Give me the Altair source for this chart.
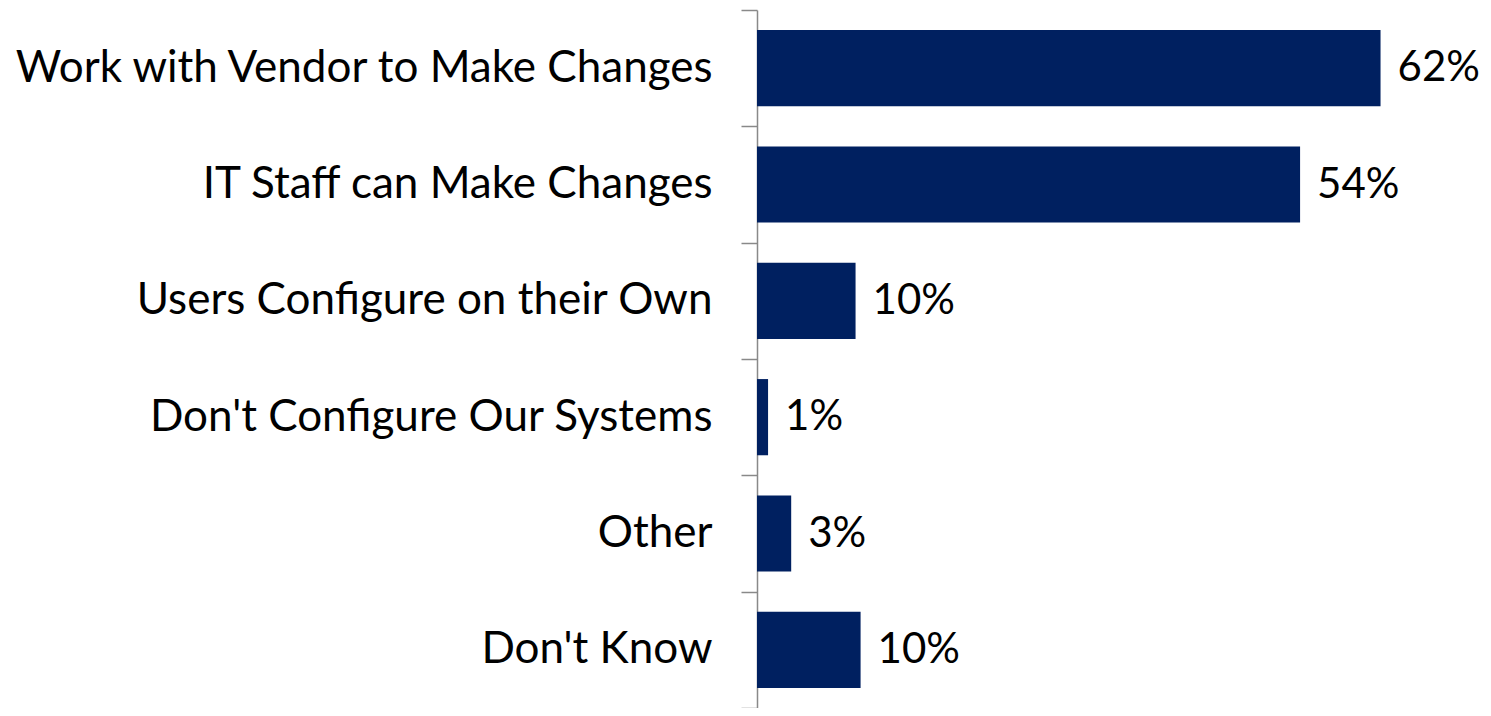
import altair as alt
import pandas as pd

categories = [
    "Work with Vendor to Make Changes",
    "IT Staff can Make Changes",
    "Users Configure on their Own",
    "Don't Configure Our Systems",
    "Other",
    "Don't Know",
]
values = [0.62, 0.54, 0.098, 0.011, 0.034, 0.103]

df = pd.DataFrame({"category": categories, "value": values})

FONT = "Lato"

y = alt.Y(
    "category:N",
    sort=categories,
    title=None,
    scale=alt.Scale(paddingInner=0, paddingOuter=0),
    axis=alt.Axis(
        labelFont=FONT,
        labelFontSize=44,
        labelColor="#000000",
        labelPadding=29,
        labelLimit=0,
        tickBand="extent",
        tickSize=16,
        tickColor="#898989",
        tickWidth=1.5,
        domainColor="#898989",
        domainWidth=1.5,
        grid=False,
    ),
)
x = alt.X("value:Q", title=None, axis=None, scale=alt.Scale(domain=[0, 0.7]))

bars = alt.Chart(df).mark_bar(
    color="#002060", height=alt.RelativeBandSize(band=0.655)
).encode(x=x, y=y)
labels = alt.Chart(df).mark_text(
    align="left", baseline="middle", dx=17, font=FONT, fontSize=42, color="#000000"
).encode(x=x, y=alt.Y("category:N", sort=categories), text=alt.Text("value:Q", format=".0%"))

chart = (
    alt.layer(bars, labels)
    .properties(
        width=704,
        height=698,
        autosize=alt.AutoSizeParams(type="none"),
        padding={"left": 749, "top": 2, "right": 22, "bottom": 0},
        background="#ffffff",
    )
    .configure_view(strokeWidth=0, stroke="transparent")
)

chart.save("out.html", embed_options={"renderer": "svg", "actions": False})
